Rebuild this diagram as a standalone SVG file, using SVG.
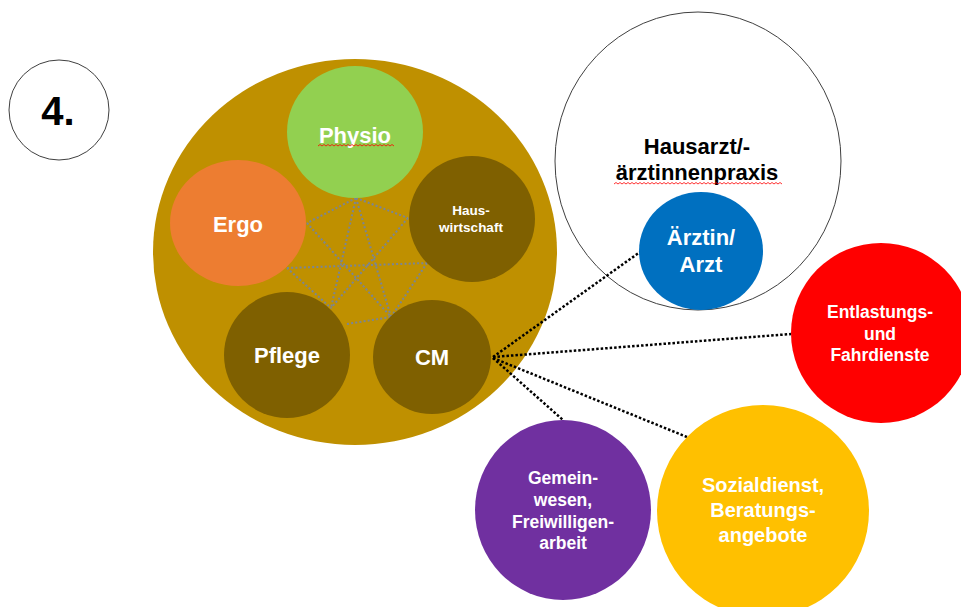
<svg xmlns="http://www.w3.org/2000/svg" width="961" height="607" viewBox="0 0 961 607">
  <style>
    .lbl { font-family: "Liberation Sans", Arial, sans-serif; font-weight: bold; fill: #ffffff; text-anchor: middle; }
    .dark { fill: #000000; }
    .inner { stroke: #7A8595; stroke-width: 2; stroke-dasharray: 2 2.2; fill: none; }
    .outer { stroke: #000000; stroke-width: 2.5; stroke-dasharray: 2.5 2; fill: none; }
    .ring { fill: #ffffff; stroke: #404040; stroke-width: 1; }
    .spell { fill: none; stroke: #FF0000; stroke-width: 0.8; }
  </style>

  <!-- step number -->
  <g id="step">
    <circle class="ring" cx="59" cy="110" r="50"/>
    <text class="lbl dark" x="58" y="125" font-size="40">4.</text>
  </g>

  <!-- outer team circle -->
  <g id="team">
    <ellipse cx="355" cy="252" rx="202" ry="193" fill="#BF9000"/>
  </g>

  <!-- practice circle -->
  <g id="praxis">
    <ellipse class="ring" cx="698" cy="161" rx="143" ry="149"/>
    <text class="lbl dark" x="697" y="154" font-size="22">Hausarzt/-</text>
    <text class="lbl dark" x="697" y="180" font-size="22">ärztinnenpraxis</text>
    <!-- spell-check squiggle, 4px period -->
    <path class="spell" d="M614 184
      l2 -1.5 l2 1.5 l2 -1.5 l2 1.5 l2 -1.5 l2 1.5 l2 -1.5 l2 1.5 l2 -1.5 l2 1.5 l2 -1.5 l2 1.5
      l2 -1.5 l2 1.5 l2 -1.5 l2 1.5 l2 -1.5 l2 1.5 l2 -1.5 l2 1.5 l2 -1.5 l2 1.5 l2 -1.5 l2 1.5
      l2 -1.5 l2 1.5 l2 -1.5 l2 1.5 l2 -1.5 l2 1.5 l2 -1.5 l2 1.5 l2 -1.5 l2 1.5 l2 -1.5 l2 1.5
      l2 -1.5 l2 1.5 l2 -1.5 l2 1.5 l2 -1.5 l2 1.5 l2 -1.5 l2 1.5 l2 -1.5 l2 1.5 l2 -1.5 l2 1.5
      l2 -1.5 l2 1.5 l2 -1.5 l2 1.5 l2 -1.5 l2 1.5 l2 -1.5 l2 1.5 l2 -1.5 l2 1.5 l2 -1.5 l2 1.5
      l2 -1.5 l2 1.5 l2 -1.5 l2 1.5 l2 -1.5 l2 1.5 l2 -1.5 l2 1.5 l2 -1.5 l2 1.5 l2 -1.5 l2 1.5
      l2 -1.5 l2 1.5 l2 -1.5 l2 1.5 l2 -1.5 l2 1.5 l2 -1.5 l2 1.5 l2 -1.5 l2 1.5 l2 -1.5 l2 1.5"/>
  </g>

  <!-- connectors -->
  <g id="connectors">
    <g id="team-links">
      <line class="inner" x1="356" y1="198" x2="307" y2="223"/>
      <line class="inner" x1="356" y1="198" x2="408" y2="218"/>
      <line class="inner" x1="356" y1="198" x2="331" y2="308"/>
      <line class="inner" x1="356" y1="198" x2="391" y2="317"/>
      <line class="inner" x1="307" y1="223" x2="391" y2="317"/>
      <line class="inner" x1="408" y1="218" x2="331" y2="308"/>
      <line class="inner" x1="287" y1="268" x2="427" y2="263"/>
      <line class="inner" x1="287" y1="268" x2="331" y2="308"/>
      <line class="inner" x1="427" y1="263" x2="391" y2="317"/>
      <line class="inner" x1="347" y1="324" x2="391" y2="317"/>
    </g>
    <g id="cm-links">
      <line class="outer" x1="493" y1="357" x2="640" y2="252"/>
      <line class="outer" x1="493" y1="357" x2="791" y2="334"/>
      <line class="outer" x1="493" y1="358" x2="687" y2="437"/>
      <line class="outer" x1="493" y1="358" x2="563" y2="420"/>
    </g>
  </g>

  <g id="physio">
    <ellipse cx="355" cy="132" rx="68" ry="66" fill="#92D050"/>
    <text class="lbl" x="355" y="143" font-size="22">Physio</text>
    <path class="spell" d="M318 146
      l2 -1.5 l2 1.5 l2 -1.5 l2 1.5 l2 -1.5 l2 1.5 l2 -1.5 l2 1.5 l2 -1.5 l2 1.5 l2 -1.5 l2 1.5
      l2 -1.5 l2 1.5 l2 -1.5 l2 1.5 l2 -1.5 l2 1.5 l2 -1.5 l2 1.5 l2 -1.5 l2 1.5 l2 -1.5 l2 1.5
      l2 -1.5 l2 1.5 l2 -1.5 l2 1.5 l2 -1.5 l2 1.5 l2 -1.5 l2 1.5 l2 -1.5 l2 1.5 l2 -1.5 l2 1.5
      l2 -1.5 l2 1.5"/>
  </g>

  <g id="ergo">
    <ellipse cx="238" cy="223" rx="68" ry="63" fill="#ED7D31"/>
    <text class="lbl" x="238" y="232" font-size="22">Ergo</text>
  </g>

  <g id="hauswirtschaft">
    <ellipse cx="472" cy="219" rx="63" ry="63" fill="#7F6000"/>
    <text class="lbl" x="471" y="215" font-size="13.5">Haus-</text>
    <text class="lbl" x="471" y="232" font-size="13.5">wirtschaft</text>
  </g>

  <g id="pflege">
    <ellipse cx="287" cy="355" rx="63" ry="63" fill="#7F6000"/>
    <text class="lbl" x="287" y="363" font-size="22">Pflege</text>
  </g>

  <g id="cm">
    <ellipse cx="432" cy="357" rx="59" ry="57" fill="#7F6000"/>
    <text class="lbl" x="432" y="365" font-size="22">CM</text>
  </g>

  <g id="arzt">
    <ellipse cx="701" cy="251" rx="62" ry="59" fill="#0070C0"/>
    <text class="lbl" x="701" y="245" font-size="22">Ärztin/</text>
    <text class="lbl" x="701" y="272" font-size="22">Arzt</text>
  </g>

  <g id="entlastung">
    <circle cx="881" cy="333" r="90" fill="#FF0000"/>
    <text class="lbl" x="880" y="318" font-size="17.5">Entlastungs-</text>
    <text class="lbl" x="880" y="340" font-size="17.5">und</text>
    <text class="lbl" x="880" y="361" font-size="17.5">Fahrdienste</text>
  </g>

  <g id="gemeinwesen">
    <ellipse cx="563" cy="510" rx="88" ry="90" fill="#7030A0"/>
    <text class="lbl" x="563" y="484" font-size="17.5">Gemein-</text>
    <text class="lbl" x="563" y="506" font-size="17.5">wesen,</text>
    <text class="lbl" x="563" y="528" font-size="17.5">Freiwilligen-</text>
    <text class="lbl" x="563" y="549" font-size="17.5">arbeit</text>
  </g>

  <g id="sozialdienst">
    <circle cx="763" cy="511" r="106" fill="#FFC000"/>
    <text class="lbl" x="763" y="492" font-size="20">Sozialdienst,</text>
    <text class="lbl" x="763" y="517" font-size="20">Beratungs-</text>
    <text class="lbl" x="763" y="542" font-size="20">angebote</text>
  </g>
</svg>
